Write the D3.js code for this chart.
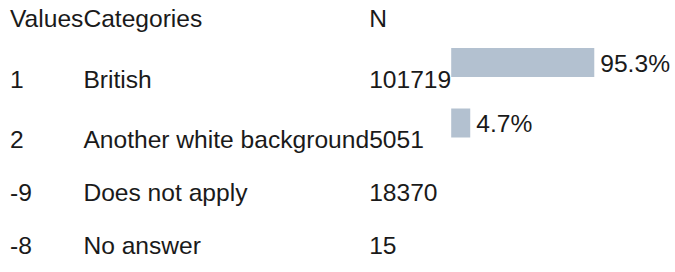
<!DOCTYPE html>
<html>
<head>
<meta charset="utf-8">
<script src="https://cdn.jsdelivr.net/npm/d3@7"></script>
<style>
  body { margin: 0; background: #fff; }
  svg text { font-family: "Liberation Sans", Arial, sans-serif; font-size: 24.6px; fill: #1a1a1a; }
</style>
</head>
<body>
<svg id="chart"></svg>
<script>
const headers = ["Values", "Categories", "N"];
const values = ["1", "2", "-9", "-8"];
const categories = ["British", "Another white background", "Does not apply", "No answer"];
const counts = [101719, 5051, 18370, 15];
const percents = [95.3, 4.7, null, null];

const width = 675, height = 272;
const svg = d3.select("#chart").attr("width", width).attr("height", height);

// measure text so columns size like a table
function textWidth(s) {
    const t = svg.append("text").text(s);
    const w = t.node().getComputedTextLength();
    t.remove();
    return w;
}

const col1 = d3.max([headers[0]].concat(values), textWidth);
const col2 = d3.max([headers[1]].concat(categories), textWidth);
const col3 = d3.max(counts.map(String), textWidth);

const x0 = 10;
const colX = [x0, x0 + col1, x0 + col1 + col2, x0 + col1 + col2 + col3];

// row baselines: rows holding a bar are a bit taller
const rowStep = 53, barExtra = 7.5;
const baselines = [27];
percents.forEach((p, i) => {
    baselines.push(baselines[i] + rowStep + (p != null ? barExtra : 0));
});

const barScale = d3.scaleLinear()
    .domain([0, 100])
    .range([12.6, 149.5]);

// header
svg.selectAll(".head")
    .data(headers)
    .enter().append("text")
    .attr("class", "head")
    .attr("x", (d, i) => colX[i])
    .attr("y", baselines[0])
    .text(d => d);

const rows = svg.selectAll(".row")
    .data(values.map((v, i) => ({ v, cat: categories[i], n: counts[i], p: percents[i], i })))
    .enter().append("g")
    .attr("class", "row")
    .attr("transform", d => "translate(0," + baselines[d.i + 1] + ")");

rows.append("text").attr("x", colX[0]).text(d => d.v);
rows.append("text").attr("x", colX[1]).text(d => d.cat);
rows.append("text").attr("x", colX[2]).text(d => d.n);

const withBar = rows.filter(d => d.p != null);

withBar.append("rect")
    .attr("x", colX[3])
    .attr("y", -39.5)
    .attr("width", d => barScale(d.p))
    .attr("height", 29)
    .attr("fill", "#b3c1d0");

withBar.append("text")
    .attr("x", d => colX[3] + barScale(d.p) + 6)
    .attr("y", -16)
    .text(d => d.p.toFixed(1) + "%");
</script>
</body>
</html>
